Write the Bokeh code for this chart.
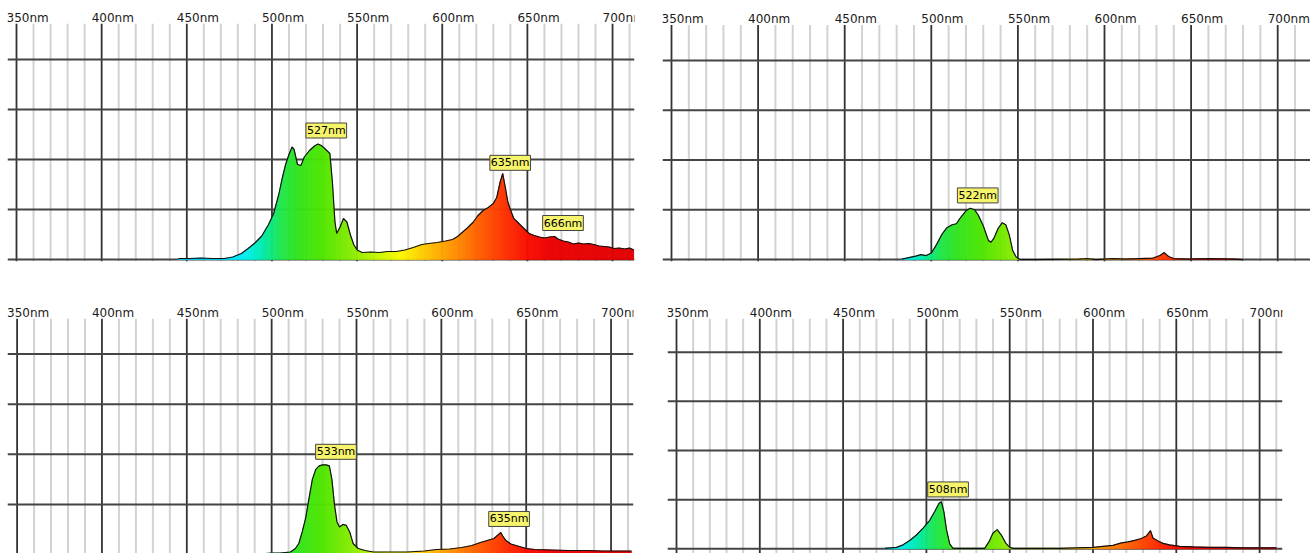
import numpy as np
from bokeh.plotting import figure
from bokeh.layouts import row, column
from bokeh.models import Range1d, Label
from bokeh.core.properties import value
from bokeh.embed import file_html
from bokeh.resources import INLINE

# ---------------- data ----------------
major_nm = [350, 400, 450, 500, 550, 600, 650, 700]
major_labels = ["350nm", "400nm", "450nm", "500nm", "550nm", "600nm", "650nm", "700nm"]
minor_nm = [360, 370, 380, 390, 410, 420, 430, 440, 460, 470, 480, 490,
            510, 520, 530, 540, 560, 570, 580, 590, 610, 620, 630, 640,
            660, 670, 680, 690, 710]
grid_levels = [1, 2, 3, 4]

# top-left spectrum
tl_nm = [445, 452, 458, 465, 472, 477, 482, 486, 490, 494, 498, 501, 504, 506, 508,
         510, 511.8, 513, 515, 517, 519, 522, 525, 527, 529, 531, 534, 535.5, 537,
         538, 540, 542, 544, 546, 548, 550, 553, 558, 563, 568, 573, 578, 583, 588,
         592, 597, 602, 606, 609, 612, 615, 618, 621, 624, 627, 630, 632, 634,
         635.5, 637, 638.5, 640, 642, 645, 648, 651, 654, 657, 660, 663, 666, 668,
         671, 674, 677, 680, 683, 686, 689, 692, 695, 698, 701, 704, 707, 710, 712.5]
tl_val = [0.02, 0.02, 0.03, 0.02, 0.02, 0.05, 0.12, 0.22, 0.33, 0.47, 0.70, 0.92, 1.30, 1.62, 1.90,
          2.10, 2.25, 2.20, 1.90, 1.88, 2.05, 2.18, 2.27, 2.31, 2.28, 2.22, 2.12, 1.55, 0.75,
          0.52, 0.65, 0.82, 0.75, 0.50, 0.30, 0.19, 0.14, 0.15, 0.14, 0.16, 0.16, 0.19, 0.24, 0.30,
          0.32, 0.34, 0.37, 0.40, 0.46, 0.55, 0.64, 0.74, 0.88, 0.98, 1.04, 1.12, 1.24, 1.55,
          1.72, 1.45, 1.15, 1.00, 0.82, 0.72, 0.62, 0.52, 0.48, 0.45, 0.43, 0.45, 0.46, 0.41,
          0.37, 0.35, 0.31, 0.33, 0.31, 0.32, 0.30, 0.27, 0.26, 0.25, 0.22, 0.23, 0.21, 0.23, 0.19]
tl_peak_nm = [527, 635, 666]
tl_peak_txt = ["527nm", "635nm", "666nm"]

# top-right spectrum
tr_nm = [483, 487, 491, 494, 497, 500, 503, 506, 509, 512, 514.5, 517, 520, 522.5, 525,
         527, 530, 533, 534.5, 536, 538.5, 541, 543, 545, 547, 549, 551, 560, 585, 590,
         595, 605, 612, 620, 628, 632, 634.5, 637, 640, 648, 660, 675, 680]
tr_val = [0.01, 0.04, 0.07, 0.10, 0.08, 0.13, 0.30, 0.50, 0.64, 0.70, 0.72, 0.85, 0.98, 1.03, 1.00,
          0.90, 0.68, 0.38, 0.35, 0.42, 0.62, 0.74, 0.70, 0.50, 0.18, 0.05, 0.0, 0.0, 0.01, 0.02,
          0.0, 0.02, 0.01, 0.02, 0.03, 0.08, 0.14, 0.06, 0.02, 0.01, 0.02, 0.01, 0.0]
tr_peak_nm = [522]
tr_peak_txt = ["522nm"]

# bottom-left spectrum
bl_nm = [496, 500, 505, 511, 514, 516, 518, 520, 522, 524, 526, 528, 530, 532, 534,
         535.5, 537, 538.5, 540, 542, 544, 546, 548, 551, 555, 560, 570, 580, 590, 597,
         605, 612, 618, 623, 628, 631, 633, 635, 636.5, 638, 641, 645, 650, 655, 665,
         675, 685, 695, 705, 712]
bl_val = [0.02, 0.03, 0.03, 0.05, 0.12, 0.22, 0.45, 0.72, 1.12, 1.50, 1.70, 1.77, 1.79, 1.79, 1.77,
          1.50, 1.00, 0.65, 0.55, 0.60, 0.58, 0.45, 0.22, 0.12, 0.08, 0.05, 0.05, 0.05, 0.07, 0.10,
          0.11, 0.14, 0.18, 0.24, 0.29, 0.32, 0.38, 0.44, 0.35, 0.28, 0.21, 0.17, 0.12, 0.10, 0.09,
          0.08, 0.08, 0.07, 0.07, 0.07]
bl_peak_nm = [533, 635]
bl_peak_txt = ["533nm", "635nm"]

# bottom-right spectrum
br_nm = [475, 482, 486, 490, 494, 498, 502, 505, 507.5, 509, 510.5, 512, 514, 516, 535,
         537.5, 540, 542.5, 545, 547.5, 550, 552, 580, 590, 600, 606, 612, 617, 621, 625,
         629, 632, 634.5, 636, 639, 642, 646, 652, 660, 670, 680, 690, 700, 710]
br_val = [0.01, 0.03, 0.08, 0.17, 0.28, 0.42, 0.58, 0.76, 0.92, 0.96, 0.75, 0.40, 0.10, 0.01, 0.01,
          0.14, 0.32, 0.39, 0.28, 0.12, 0.03, 0.01, 0.01, 0.02, 0.03, 0.05, 0.07, 0.12, 0.14, 0.17,
          0.21, 0.26, 0.37, 0.22, 0.16, 0.11, 0.08, 0.05, 0.04, 0.03, 0.03, 0.02, 0.02, 0.02]
br_peak_nm = [508]
br_peak_txt = ["508nm"]

# ---------------- style ----------------
RAMP_NM = [440, 470, 485, 495, 505, 515, 530, 545, 560, 575, 590, 605, 620, 635, 650, 665, 720]
RAMP_R = [0, 0, 0, 0, 30, 50, 80, 130, 190, 250, 255, 255, 255, 255, 250, 235, 225]
RAMP_G = [210, 220, 240, 235, 230, 228, 230, 235, 245, 250, 200, 150, 100, 55, 15, 0, 0]
RAMP_B = [255, 255, 240, 170, 80, 30, 0, 0, 0, 0, 0, 0, 0, 0, 0, 0, 0]

MAJOR_COL = "#333333"
MINOR_COL = "#d2d2d2"
HLINE_COL = "#444444"
FONT = "DejaVu Sans"


def ramp_color(w):
    r = int(round(np.interp(w, RAMP_NM, RAMP_R)))
    g = int(round(np.interp(w, RAMP_NM, RAMP_G)))
    b = int(round(np.interp(w, RAMP_NM, RAMP_B)))
    return "#%02x%02x%02x" % (r, g, b)


def make_panel(fig, frame, px350, ppn, base_px, unit_px, label_px, vtop_px,
               nm, val, pk_nm, pk_txt):
    fl, ft, fw, fh = fig
    rl, rr, rt, rb = frame
    x0 = 350 - (px350 - rl) / ppn
    x1 = 350 + (rr - px350) / ppn
    y0 = (base_px - rb) / unit_px
    y1 = (base_px - rt) / unit_px
    p = figure(width=fw, height=fh, x_range=Range1d(x0, x1), y_range=Range1d(y0, y1),
               output_backend="svg", toolbar_location=None,
               x_axis_location=None, y_axis_location=None,
               min_border=0, min_border_left=rl - fl, min_border_right=fl + fw - rr,
               min_border_top=rt - ft, min_border_bottom=ft + fh - rb)
    p.grid.visible = False
    p.outline_line_color = None
    p.background_fill_color = "white"
    p.border_fill_color = "white"

    vtop = (base_px - vtop_px) / unit_px
    n_min = len(minor_nm)
    p.segment(x0=minor_nm, y0=[y0] * n_min, x1=minor_nm, y1=[vtop] * n_min,
              line_color=MINOR_COL, line_width=2)
    n_maj = len(major_nm)
    p.segment(x0=major_nm, y0=[y0] * n_maj, x1=major_nm, y1=[vtop] * n_maj,
              line_color=MAJOR_COL, line_width=1.8)
    n_h = len(grid_levels)
    p.segment(x0=[x0] * n_h, y0=grid_levels, x1=[x1] * n_h, y1=grid_levels,
              line_color=HLINE_COL, line_width=2)
    p.segment(x0=[x0], y0=[0], x1=[x1], y1=[0], line_color=HLINE_COL, line_width=2)

    # gradient-coloured fill under the spectrum
    xs, ys, cols = [], [], []
    for i in range(len(nm) - 1):
        a, b = nm[i], nm[i + 1]
        va, vb = val[i], val[i + 1]
        n = max(1, int(np.ceil((b - a) / 0.5)))
        for k in range(n):
            xa = a + (b - a) * k / n
            xb = a + (b - a) * (k + 1) / n
            ya = va + (vb - va) * k / n
            yb = va + (vb - va) * (k + 1) / n
            xs.append([xa, xa, xb, xb])
            ys.append([0, ya, yb, 0])
            cols.append(ramp_color((xa + xb) / 2))
    p.patches(xs, ys, fill_color=cols, line_color=cols, line_width=0.6)
    p.line(nm, val, line_color="#111111", line_width=1.2)

    # wavelength labels along the top
    ylab = (base_px - label_px) / unit_px
    p.text(x=major_nm, y=[ylab] * n_maj, text=major_labels, x_offset=-10,
           text_align="left", text_baseline="middle",
           text_font=value(FONT), text_font_size="12px", text_color="#1a1a1a")

    # peak labels
    for w, t in zip(pk_nm, pk_txt):
        h = float(np.interp(w, nm, val)) + 6.0 / unit_px
        p.add_layout(Label(x=w, y=h, x_units="data", y_units="data", text=t,
                           x_offset=-12, text_align="left", text_baseline="bottom",
                           text_font=FONT, text_font_size="11px", text_color="#000000",
                           background_fill_color="#f6f46a", border_line_color="#444444",
                           border_line_width=1, padding=1))
    return p


p_tl = make_panel((0, 0, 648, 285), (7, 634, 0, 261), 16, 1.703, 259, 50, 17.5, 23.3,
                  tl_nm, tl_val, tl_peak_nm, tl_peak_txt)
p_tr = make_panel((648, 0, 662, 285), (662, 1310, 0, 266), 671, 1.732, 264, 50.7, 18.8, 25,
                  tr_nm, tr_val, tr_peak_nm, tr_peak_txt)
p_bl = make_panel((0, 285, 648, 268), (7, 633, 285, 553), 16.6, 1.697, 554, 50.1, 312.3, 318.3,
                  bl_nm, bl_val, bl_peak_nm, bl_peak_txt)
p_br = make_panel((648, 285, 662, 268), (667, 1282, 285, 553), 676, 1.666, 548.3, 49.15, 312.2, 318.3,
                  br_nm, br_val, br_peak_nm, br_peak_txt)

layout = column(row(p_tl, p_tr), row(p_bl, p_br))
open("out.html", "w").write(file_html(layout, INLINE))
